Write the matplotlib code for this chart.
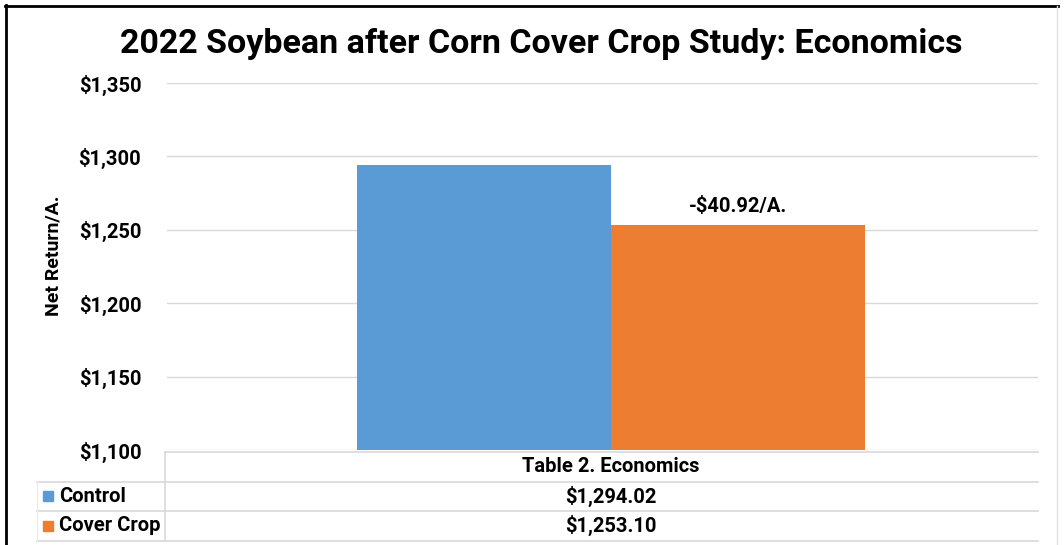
import matplotlib
matplotlib.use("Agg")
import matplotlib.pyplot as plt
from matplotlib.lines import Line2D

plt.rcParams['font.family'] = ['Roboto', 'DejaVu Sans']

# data
series = ["Control", "Cover Crop"]
values = [1294.02, 1253.10]
colors = ["#5B9BD5", "#ED7D31"]
yticks = [1100, 1150, 1200, 1250, 1300, 1350]
table_title = "Table 2. Economics"
diff_label = "-$40.92/A."

W, H = 1064, 545
fig = plt.figure(figsize=(W / 100, H / 100), dpi=100)

def fx(px):
    return px / W

def fy(py):
    return 1 - py / H

# plot area
ax = fig.add_axes([fx(167), fy(450), fx(1038 - 167), (450 - 83) / H])
bw = 0.292
offs = [-bw / 2, bw / 2]
for s, v, c, o in zip(series, values, colors, offs):
    ax.bar(o, v - yticks[0], bottom=yticks[0], width=bw, color=c, zorder=3)

ax.set_xlim(-0.5 - 0.0098, 0.5 - 0.0098)
ax.set_ylim(yticks[0], yticks[-1])
ax.set_yticks(yticks)
ax.set_yticklabels(["${:,}".format(t) for t in yticks], fontsize=14.5, fontweight='bold')
ax.tick_params(axis='y', length=0, pad=18.5)
ax.set_xticks([])
ax.grid(axis='y', color='#D9D9D9', lw=1, zorder=0)
for sp in ax.spines.values():
    sp.set_visible(False)

fig.text(fx(54), fy(256), "Net Return/A.", rotation=90, ha='center', va='center',
         fontsize=14, fontweight='bold')

ax.text(offs[1], values[1] + 13, diff_label, ha='center', va='center',
        fontsize=14.5, fontweight='bold')

fig.text(fx(541), fy(53), "2022 Soybean after Corn Cover Crop Study: Economics",
         ha='center', va='baseline', fontsize=24.5, fontweight='bold')

# data table
grid_c = '#D9D9D9'

def hline(y, x0, x1):
    fig.add_artist(Line2D([fx(x0), fx(x1)], [fy(y), fy(y)], color=grid_c, lw=1.2))

hline(452, 165, 1038)
hline(482, 37, 1038)
hline(511, 37, 1038)
hline(541, 37, 1038)
fig.add_artist(Line2D([fx(165), fx(165)], [fy(452), fy(541)], color=grid_c, lw=1.2))
fig.add_artist(Line2D([fx(37), fx(37)], [fy(482), fy(541)], color='#EBEBEB', lw=1))

fig.text(fx(611), fy(466), table_title, ha='center', va='center', fontsize=14.5, fontweight='bold')
for i, (s, v, c) in enumerate(zip(series, values, colors)):
    yc = 496 + i * 29.5
    fig.patches.append(plt.Rectangle((fx(43), fy(yc + 5)), fx(10), 10 / H, color=c,
                                     transform=fig.transFigure, figure=fig))
    fig.text(fx(59), fy(yc), s, ha='left', va='center', fontsize=14.5, fontweight='bold')
    fig.text(fx(611), fy(yc), "${:,.2f}".format(v), ha='center', va='center',
             fontsize=14.5, fontweight='bold')

# frame
fig.add_artist(Line2D([fx(6), fx(6)], [0, fy(5)], color='black', lw=2))
fig.add_artist(Line2D([fx(5), fx(1058)], [fy(6), fy(6)], color='black', lw=2))
fig.add_artist(Line2D([fx(1057), fx(1057)], [0, fy(6)], color='#E0E0E0', lw=1))

fig.savefig("out.png", dpi=100)
